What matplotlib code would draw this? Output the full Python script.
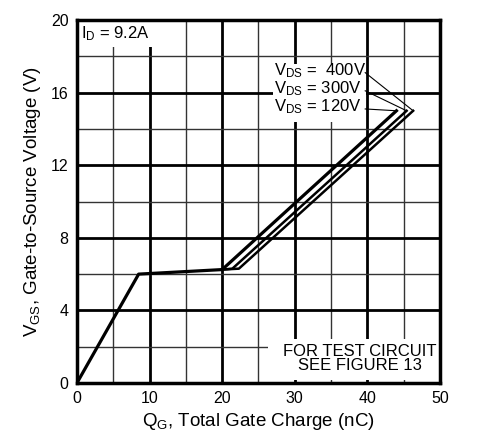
import matplotlib.pyplot as plt
from matplotlib.patches import Rectangle

plt.rcParams['font.family'] = ['Liberation Sans', 'DejaVu Sans']

# gate charge curves (nC, V)
q_common = [0, 8.5, 20.0]
v_common = [0, 6.0, 6.25]
q_120 = [20.0, 44.0]
v_120 = [6.25, 15.0]
q_300 = [20.0, 21.4, 45.4]
v_300 = [6.25, 6.3, 15.0]
q_400 = [20.0, 22.3, 46.3]
v_400 = [6.25, 6.3, 15.0]

labels = ['$\\mathregular{V_{DS}}$ =  400V', '$\\mathregular{V_{DS}}$ = 300V', '$\\mathregular{V_{DS}}$ = 120V']
label_ends = [(46.3, 15.0), (45.4, 15.0), (44.0, 15.0)]

fig = plt.figure(figsize=(4.9, 4.4), dpi=100)
ax = fig.add_axes([0.157, 0.1295, 0.741, 0.825])

ax.set_xlim(0, 50)
ax.set_ylim(0, 20)
ax.set_xticks(range(0, 51, 10))
ax.set_xticks(range(5, 50, 10), minor=True)
ax.set_yticks(range(0, 21, 4))
ax.set_yticks(range(2, 20, 4), minor=True)
ax.set_axisbelow(True)
ax.grid(which='major', color='black', linewidth=2.0)
ax.grid(which='minor', color='#333333', linewidth=1.0)
ax.tick_params(which='both', length=0, labelsize=11.5, pad=6)
for s in ax.spines.values():
    s.set_linewidth(2.5)

# white boxes hiding the grid behind the notes
ax.add_patch(Rectangle((0.3, 18.5), 10.3, 1.4, facecolor='white', edgecolor='none', zorder=1.5))
ax.add_patch(Rectangle((27.0, 14.4), 12.8, 3.2, facecolor='white', edgecolor='none', zorder=1.5))
ax.add_patch(Rectangle((26.3, 0.15), 23.5, 2.25, facecolor='white', edgecolor='none', zorder=1.5))

ax.plot(q_common, v_common, color='black', linewidth=2.3, zorder=3)
ax.plot(q_120, v_120, color='black', linewidth=2.3, zorder=3)
ax.plot(q_300, v_300, color='black', linewidth=1.8, zorder=3)
ax.plot(q_400, v_400, color='black', linewidth=1.8, zorder=3)

ax.text(0.6, 19.25, '$\\mathregular{I_D}$ = 9.2A', fontsize=12, va='center', ha='left', zorder=4)

ys = [17.2, 16.2, 15.2]
for lab, y, end in zip(labels, ys, label_ends):
    ax.text(27.2, y, lab, fontsize=12, va='center', ha='left', zorder=4)
    ax.plot([39.7, end[0]], [y - 0.1, end[1]], color='black', linewidth=0.8, zorder=4)

ax.text(39.0, 1.35, 'FOR TEST CIRCUIT\nSEE FIGURE 13', fontsize=12, ha='center', va='center',
        linespacing=0.95, zorder=4)

ax.set_xlabel('$\\mathregular{Q_G}$, Total Gate Charge (nC)', fontsize=13.5, labelpad=3)
ax.set_ylabel('$\\mathregular{V_{GS}}$, Gate-to-Source Voltage (V)', fontsize=13.5, labelpad=6)

fig.savefig('out.png', dpi=100)
